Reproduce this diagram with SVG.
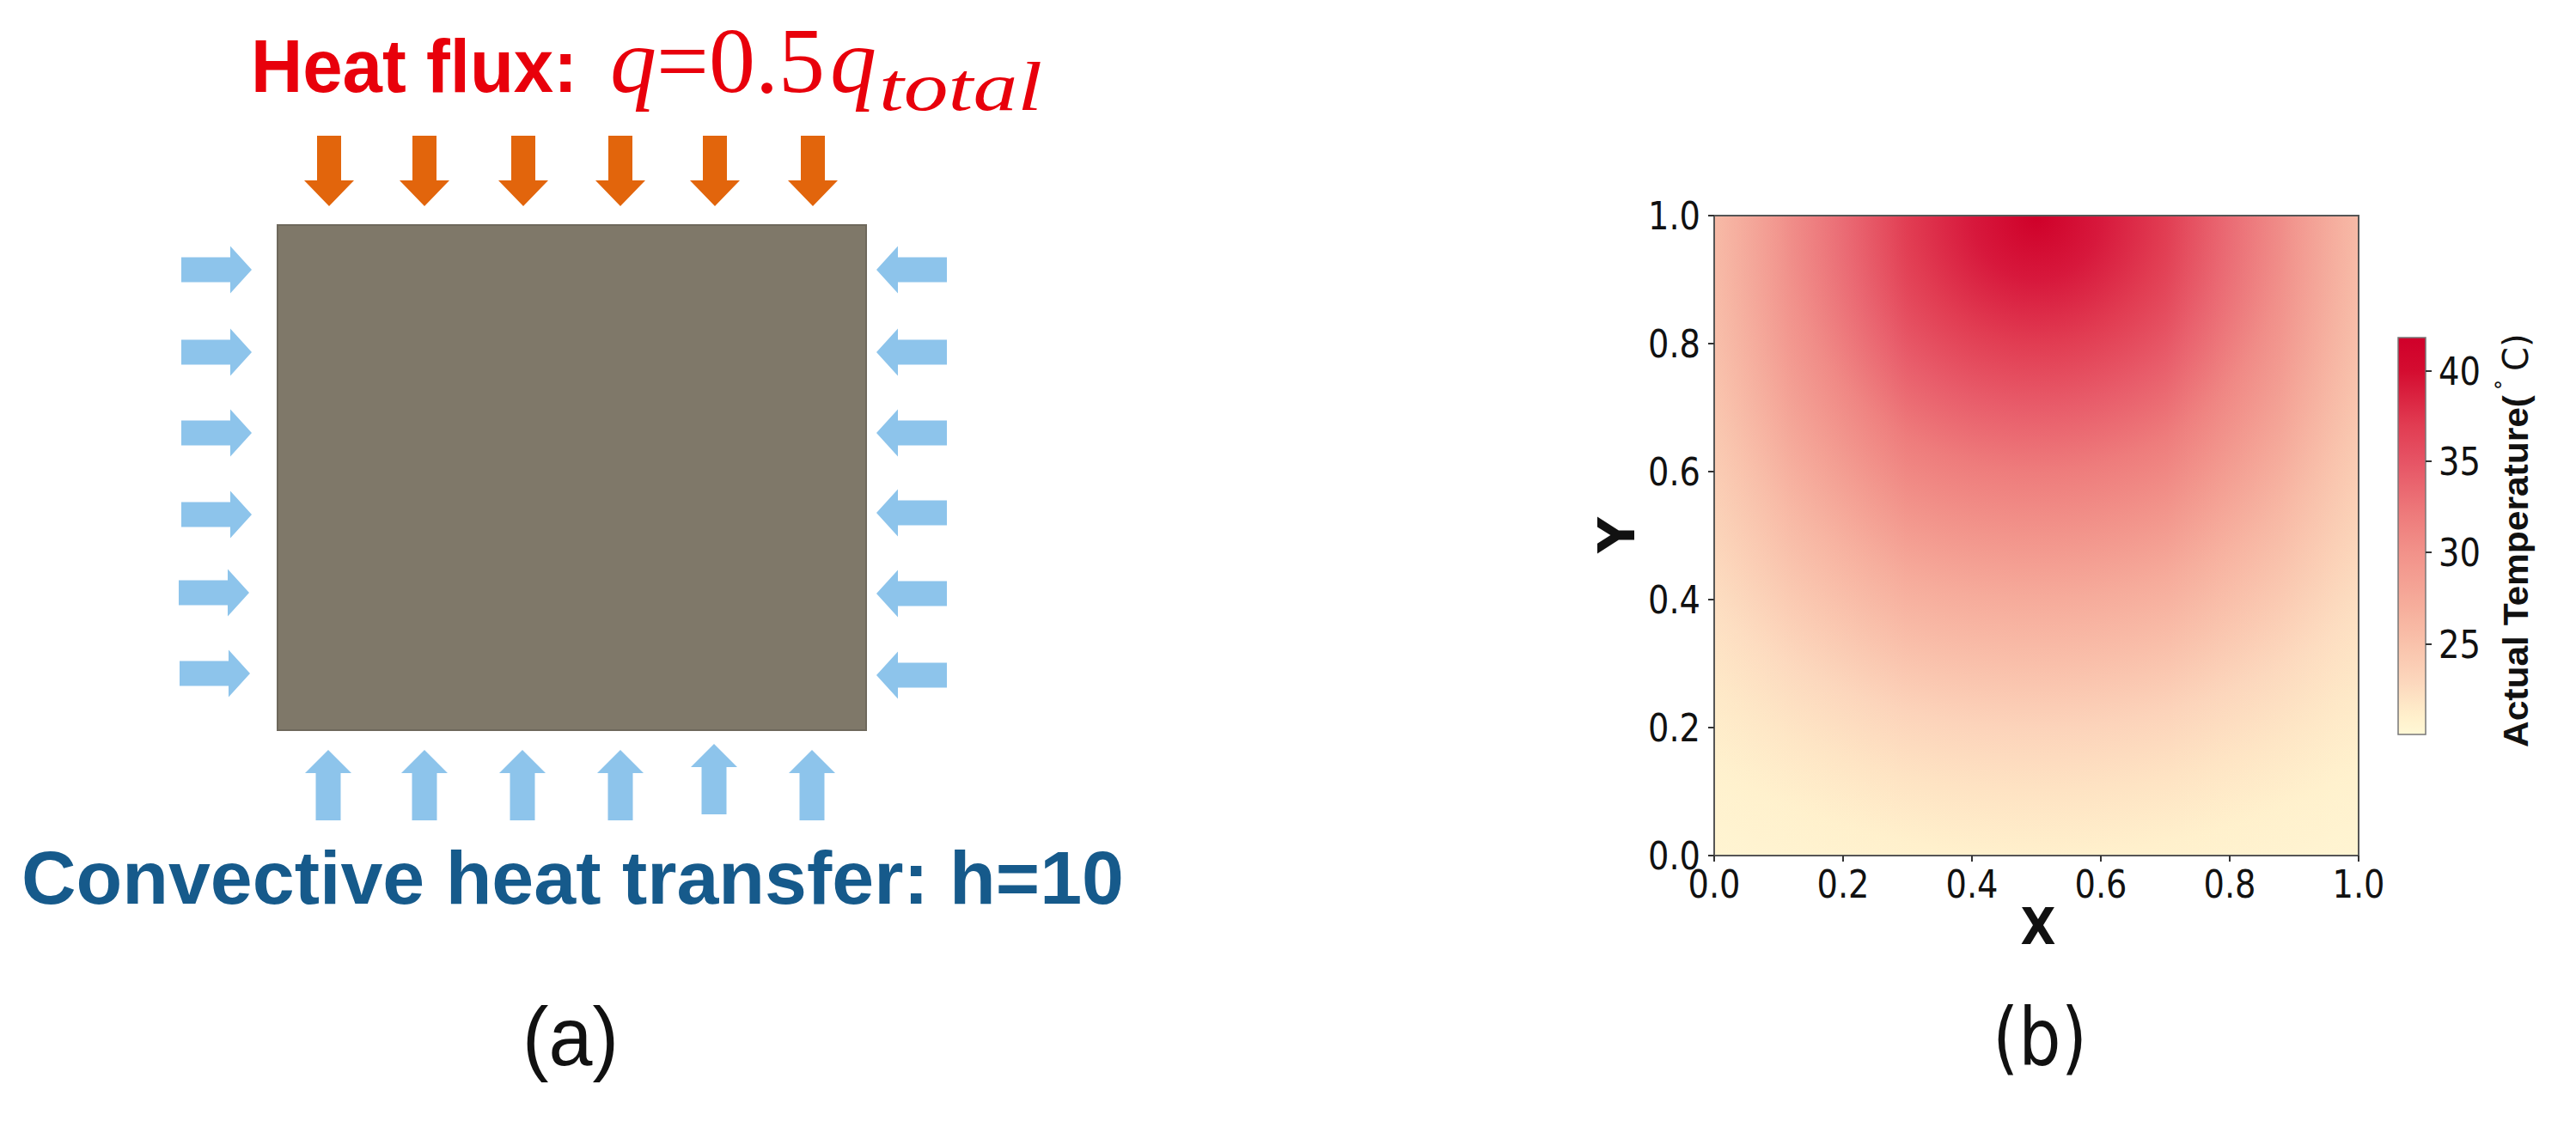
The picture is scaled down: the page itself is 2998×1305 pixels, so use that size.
<svg xmlns="http://www.w3.org/2000/svg" width="2998" height="1305" viewBox="0 0 2998 1305">
<style>
.tit{font-family:"Liberation Sans",Arial,sans-serif;font-weight:bold;fill:#e8000b}
.math{font-family:"Liberation Serif","Times New Roman",serif;fill:#e8000b}
.conv{font-family:"Liberation Sans",Arial,sans-serif;font-weight:bold;fill:#165a8b}
.lbl{font-family:"Liberation Sans",Arial,sans-serif;fill:#111}
.tick{font-family:"DejaVu Sans",sans-serif;font-size:44px;fill:#111}
.axl{font-family:"DejaVu Sans",sans-serif;font-weight:bold;fill:#111}
.cbl{font-family:"Liberation Sans",Arial,sans-serif;font-weight:bold;font-size:40px;fill:#111}
.blue{fill:#8dc4eb}
.orange{fill:#e2650c}
.tk{stroke:#333;stroke-width:2}
</style>
<defs>
<polygon id="arR" points="-41,-14.5 16,-14.5 16,-27.5 41,0 16,27.5 16,14.5 -41,14.5"/>
<polygon id="arL" points="41,-14.5 -16,-14.5 -16,-27.5 -41,0 -16,27.5 -16,14.5 41,14.5"/>
<polygon id="arU" points="-14.5,82 -14.5,27 -27,27 0,0 27,27 14.5,27 14.5,82"/>
<polygon id="arD" points="-14,0 14,0 14,52 29,52 0,82 -29,52 -14,52"/>
<radialGradient id="heat" gradientUnits="userSpaceOnUse" cx="2370" cy="251" r="835" gradientTransform="translate(2370 251) scale(1.0 1) translate(-2370 -251)">
<stop offset="0" stop-color="#cf0029"/>
<stop offset="0.089" stop-color="#d7183c"/>
<stop offset="0.178" stop-color="#e13c52"/>
<stop offset="0.268" stop-color="#e85c6a"/>
<stop offset="0.357" stop-color="#ee7c7c"/>
<stop offset="0.446" stop-color="#f2948b"/>
<stop offset="0.535" stop-color="#f6ab9b"/>
<stop offset="0.625" stop-color="#f9bfaa"/>
<stop offset="0.714" stop-color="#fcd3ba"/>
<stop offset="0.803" stop-color="#fee3c3"/>
<stop offset="0.892" stop-color="#fff0cc"/>
<stop offset="1" stop-color="#fff5d3"/>
</radialGradient>
<linearGradient id="edge" x1="0" y1="0" x2="1" y2="0">
<stop offset="0" stop-color="#fff3d0" stop-opacity="0.4"/>
<stop offset="0.12" stop-color="#fff3d0" stop-opacity="0.18"/>
<stop offset="0.3" stop-color="#fff3d0" stop-opacity="0"/>
<stop offset="0.7" stop-color="#fff3d0" stop-opacity="0"/>
<stop offset="0.88" stop-color="#fff3d0" stop-opacity="0.18"/>
<stop offset="1" stop-color="#fff3d0" stop-opacity="0.4"/>
</linearGradient>
<linearGradient id="cbar" x1="0" y1="0" x2="0" y2="1">
<stop offset="0" stop-color="#d0002a"/>
<stop offset="0.083" stop-color="#d40c30"/>
<stop offset="0.22" stop-color="#e13c52"/>
<stop offset="0.313" stop-color="#e65465"/>
<stop offset="0.45" stop-color="#ee7c7c"/>
<stop offset="0.543" stop-color="#f2928a"/>
<stop offset="0.68" stop-color="#f6ae9c"/>
<stop offset="0.772" stop-color="#f9c2ab"/>
<stop offset="0.864" stop-color="#fcd6bc"/>
<stop offset="0.956" stop-color="#fff0cc"/>
<stop offset="1" stop-color="#fff8d6"/>
</linearGradient>
</defs>
<rect width="2998" height="1305" fill="#ffffff"/>

<g id="panel-a">
<g id="title-heatflux">
<text class="tit" x="292" y="107" font-size="87" textLength="380" lengthAdjust="spacingAndGlyphs">Heat flux:</text>
<text class="math" y="107" font-size="108"><tspan x="710" font-style="italic">q</tspan><tspan x="764">=0.5</tspan><tspan x="966" font-style="italic">q</tspan></text>
<text class="math" x="1023" y="128" font-size="80" font-style="italic" textLength="190" lengthAdjust="spacingAndGlyphs">total</text>
</g>
<g id="heat-flux-arrows" class="orange">
<use href="#arD" x="383" y="158"/>
<use href="#arD" x="494" y="158"/>
<use href="#arD" x="609" y="158"/>
<use href="#arD" x="722" y="158"/>
<use href="#arD" x="832" y="158"/>
<use href="#arD" x="946" y="158"/>
</g>
<g id="domain">
<rect x="323" y="262" width="685" height="588" fill="#7f7869" stroke="#6e685c" stroke-width="2"/>
</g>
<g id="convection-left" class="blue">
<use href="#arR" x="252" y="314"/>
<use href="#arR" x="252" y="410"/>
<use href="#arR" x="252" y="504"/>
<use href="#arR" x="252" y="599"/>
<use href="#arR" x="249" y="690"/>
<use href="#arR" x="250" y="784"/>
</g>
<g id="convection-right" class="blue">
<use href="#arL" x="1061" y="314"/>
<use href="#arL" x="1061" y="410"/>
<use href="#arL" x="1061" y="504"/>
<use href="#arL" x="1061" y="597"/>
<use href="#arL" x="1061" y="691"/>
<use href="#arL" x="1061" y="786"/>
</g>
<g id="convection-bottom" class="blue">
<use href="#arU" x="382" y="873"/>
<use href="#arU" x="494" y="873"/>
<use href="#arU" x="608" y="873"/>
<use href="#arU" x="722" y="873"/>
<use href="#arU" x="831" y="866"/>
<use href="#arU" x="945" y="873"/>
</g>
<g id="label-convective">
<text class="conv" x="25" y="1052" font-size="87" textLength="1283" lengthAdjust="spacingAndGlyphs">Convective heat transfer: h=10</text>
</g>
<g id="label-a">
<text class="lbl" x="664" y="1240" font-size="96" text-anchor="middle" textLength="112" lengthAdjust="spacingAndGlyphs">(a)</text>
</g>
</g>

<g id="panel-b">
<g id="heatmap">
<rect x="1995" y="251" width="750" height="745" fill="url(#heat)"/>
<rect x="1995" y="251" width="750" height="745" fill="url(#edge)"/>
<rect x="1995" y="251" width="750" height="745" fill="none" stroke="#555" stroke-width="2"/>
</g>
<g id="y-axis">
<line class="tk" x1="1988" y1="251" x2="1995" y2="251"/>
<line class="tk" x1="1988" y1="400" x2="1995" y2="400"/>
<line class="tk" x1="1988" y1="549" x2="1995" y2="549"/>
<line class="tk" x1="1988" y1="698" x2="1995" y2="698"/>
<line class="tk" x1="1988" y1="847" x2="1995" y2="847"/>
<line class="tk" x1="1988" y1="996" x2="1995" y2="996"/>
<text class="tick" x="1979" y="267" text-anchor="end" textLength="61" lengthAdjust="spacingAndGlyphs">1.0</text>
<text class="tick" x="1979" y="416" text-anchor="end" textLength="61" lengthAdjust="spacingAndGlyphs">0.8</text>
<text class="tick" x="1979" y="565" text-anchor="end" textLength="61" lengthAdjust="spacingAndGlyphs">0.6</text>
<text class="tick" x="1979" y="714" text-anchor="end" textLength="61" lengthAdjust="spacingAndGlyphs">0.4</text>
<text class="tick" x="1979" y="863" text-anchor="end" textLength="61" lengthAdjust="spacingAndGlyphs">0.2</text>
<text class="tick" x="1979" y="1012" text-anchor="end" textLength="61" lengthAdjust="spacingAndGlyphs">0.0</text>
<text class="axl" transform="translate(1902 623) rotate(-90)" font-size="58" text-anchor="middle">Y</text>
</g>
<g id="x-axis">
<line class="tk" x1="1995" y1="996" x2="1995" y2="1003"/>
<line class="tk" x1="2145" y1="996" x2="2145" y2="1003"/>
<line class="tk" x1="2295" y1="996" x2="2295" y2="1003"/>
<line class="tk" x1="2445" y1="996" x2="2445" y2="1003"/>
<line class="tk" x1="2595" y1="996" x2="2595" y2="1003"/>
<line class="tk" x1="2745" y1="996" x2="2745" y2="1003"/>
<text class="tick" x="1995" y="1045" text-anchor="middle" textLength="61" lengthAdjust="spacingAndGlyphs">0.0</text>
<text class="tick" x="2145" y="1045" text-anchor="middle" textLength="61" lengthAdjust="spacingAndGlyphs">0.2</text>
<text class="tick" x="2295" y="1045" text-anchor="middle" textLength="61" lengthAdjust="spacingAndGlyphs">0.4</text>
<text class="tick" x="2445" y="1045" text-anchor="middle" textLength="61" lengthAdjust="spacingAndGlyphs">0.6</text>
<text class="tick" x="2595" y="1045" text-anchor="middle" textLength="61" lengthAdjust="spacingAndGlyphs">0.8</text>
<text class="tick" x="2745" y="1045" text-anchor="middle" textLength="61" lengthAdjust="spacingAndGlyphs">1.0</text>
<text class="axl" x="2372" y="1099" font-size="58" text-anchor="middle" textLength="41" lengthAdjust="spacingAndGlyphs">X</text>
</g>
<g id="colorbar">
<rect x="2791" y="393" width="32" height="462" fill="url(#cbar)" stroke="#777" stroke-width="1.5"/>
<line class="tk" x1="2823" y1="432" x2="2830" y2="432"/>
<line class="tk" x1="2823" y1="537" x2="2830" y2="537"/>
<line class="tk" x1="2823" y1="643" x2="2830" y2="643"/>
<line class="tk" x1="2823" y1="750" x2="2830" y2="750"/>
<text class="tick" x="2838" y="448" textLength="49" lengthAdjust="spacingAndGlyphs">40</text>
<text class="tick" x="2838" y="553" textLength="49" lengthAdjust="spacingAndGlyphs">35</text>
<text class="tick" x="2838" y="659" textLength="49" lengthAdjust="spacingAndGlyphs">30</text>
<text class="tick" x="2838" y="766" textLength="49" lengthAdjust="spacingAndGlyphs">25</text>
<text transform="translate(2942 870) rotate(-90)"><tspan class="cbl" textLength="410" lengthAdjust="spacingAndGlyphs">Actual Temperature(</tspan><tspan font-family="DejaVu Sans,sans-serif" font-size="24" dx="6" dy="-20" fill="#111">°</tspan><tspan font-family="DejaVu Sans,sans-serif" font-size="40" dx="10" dy="20" fill="#111">C)</tspan></text>
</g>
<g id="label-b">
<text class="lbl" x="2374" y="1240" font-size="92" text-anchor="middle" textLength="110" lengthAdjust="spacingAndGlyphs" style="font-family:'DejaVu Sans',sans-serif">(b)</text>
</g>
</g>
</svg>
